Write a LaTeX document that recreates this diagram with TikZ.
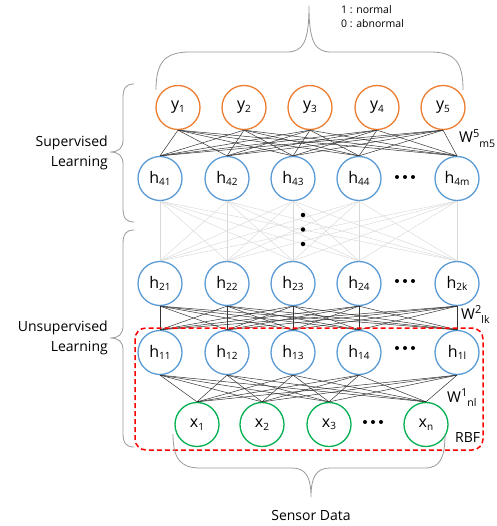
\documentclass[tikz,border=0pt]{standalone}
\usepackage{fontspec}
\setmainfont{Open Sans}
\definecolor{corange}{RGB}{237,125,49}
\definecolor{cblue}{RGB}{91,155,213}
\definecolor{cgreen}{RGB}{0,176,80}
\newcommand{\lsub}[1]{\raisebox{-2.5pt}{\fontsize{10}{10}\selectfont #1}}
\newcommand{\wsup}[2]{W\raisebox{5.5pt}{\fontsize{11}{10}\selectfont #1}\raisebox{-4.5pt}{\fontsize{10.5}{10}\selectfont #2}}
\begin{document}
\begin{tikzpicture}[x=1pt,y=-1pt,
  neuron/.style={circle,draw,line width=1.3pt,fill=white,minimum size=44pt,inner sep=0pt,font=\fontsize{16}{18}\selectfont},
  outn/.style={neuron,draw=corange},
  hidn/.style={neuron,draw=cblue},
  inn/.style={neuron,draw=cgreen},
  edge/.style={draw=black!80,line width=0.5pt},
  faint/.style={draw=black!15,line width=0.45pt},
  brace/.style={draw=black!40,line width=0.8pt},
  lbl/.style={font=\fontsize{14}{20}\selectfont,inner sep=0pt},
  wlbl/.style={font=\fontsize{15}{16}\selectfont,inner sep=0pt,anchor=base west},
  dotc/.style={fill=black,draw=none,circle,inner sep=0pt,minimum size=4.5pt}]
\useasboundingbox (0,0) rectangle (496,526);

% nodes
\node[outn] (Y1) at (178,107.5) {y\lsub{1}};
\node[outn] (Y2) at (244,107.5) {y\lsub{2}};
\node[outn] (Y3) at (310,107.5) {y\lsub{3}};
\node[outn] (Y4) at (377,107.5) {y\lsub{4}};
\node[outn] (Y5) at (443,107.5) {y\lsub{5}};

\node[hidn] (D1) at (160,178.5) {h\lsub{41}};
\node[hidn] (D2) at (227,178.5) {h\lsub{42}};
\node[hidn] (D3) at (293,178.5) {h\lsub{43}};
\node[hidn] (D4) at (359,178.5) {h\lsub{44}};
\node[hidn] (D5) at (457,178.5) {h\lsub{4m}};

\node[hidn] (C1) at (160,283.5) {h\lsub{21}};
\node[hidn] (C2) at (227,283.5) {h\lsub{22}};
\node[hidn] (C3) at (293,283.5) {h\lsub{23}};
\node[hidn] (C4) at (359,283.5) {h\lsub{24}};
\node[hidn] (C5) at (457,283.5) {h\lsub{2k}};

\node[hidn] (B1) at (160,352.5) {h\lsub{11}};
\node[hidn] (B2) at (227,352.5) {h\lsub{12}};
\node[hidn] (B3) at (293,352.5) {h\lsub{13}};
\node[hidn] (B4) at (359,352.5) {h\lsub{14}};
\node[hidn] (B5) at (457,352.5) {h\lsub{1l}};

\node[inn] (X1) at (197,424.5) {x\lsub{1}};
\node[inn] (X2) at (262,424.5) {x\lsub{2}};
\node[inn] (X3) at (329,424.5) {x\lsub{3}};
\node[inn] (X4) at (426,424.5) {x\lsub{n}};

% connectors
\foreach \i in {1,...,5}{
  \foreach \j in {1,...,5}{
    \draw[edge] (Y\i.south) -- (D\j.north);
    \draw[faint] (D\i.south) -- (C\j.north);
    \draw[edge] (C\i.south) -- (B\j.north);
  }
  \foreach \j in {1,...,4}{
    \draw[edge] (B\i.south) -- (X\j.north);
  }
}

% ellipsis dots
\foreach \yy in {215,229.5,244}{\node[dotc] at (303,\yy) {};}
\foreach \xx in {397,405,413}{
  \node[dotc,minimum size=4pt] at (\xx,177) {};
  \node[dotc,minimum size=4pt] at (\xx,281) {};
  \node[dotc,minimum size=4pt] at (\xx,348) {};
  \node[dotc,minimum size=4pt] at (\xx-32,422) {};
}

% weight labels
\node[wlbl] (w5) at (459,143) {\wsup{5}{m5}};
\node[wlbl] (w2) at (461,319) {\wsup{2}{lk}};
\node[wlbl] (w1) at (447,402) {\wsup{1}{nl}};
\node[wlbl,font=\fontsize{14}{15}\selectfont] (rbf) at (455,442) {RBF};

% RBF box
\draw[draw=red,line width=1.5pt,dash pattern=on 5pt off 3pt,rounded corners=11pt] (135,328) rectangle (483,450);

% top brace
\draw[brace] (156,90) .. controls (156,62) and (165,52) .. (190,52) -- (287,52) .. controls (303,52) and (309,42) .. (309,6)
  .. controls (309,42) and (315,52) .. (331,52) -- (430,52) .. controls (455,52) and (463,62) .. (463,90);
\node[lbl,font=\fontsize{10.5}{14}\selectfont,anchor=north west,align=left] (cls) at (341,5) {1 : normal\\0 : abnormal};

% bottom brace
\draw[brace] (173,434) .. controls (173,458) and (180,468) .. (200,468) -- (292,468) .. controls (305,468) and (311,476) .. (311,497)
  .. controls (311,476) and (317,468) .. (330,468) -- (425,468) .. controls (440,468) and (445,458) .. (445,434);
\node[lbl] (sd) at (311,515) {Sensor Data};

% left braces
\draw[brace] (134,84) .. controls (126,84) and (123,88) .. (123,98) -- (123,140) .. controls (123,148) and (119,152) .. (110,152)
  .. controls (119,152) and (123,156) .. (123,164) -- (123,208) .. controls (123,218) and (126,222) .. (134,222);
\draw[brace] (134,230) .. controls (126,230) and (123,234) .. (123,244) -- (123,326) .. controls (123,334) and (119,338) .. (110,338)
  .. controls (119,338) and (123,342) .. (123,350) -- (123,433) .. controls (123,443) and (126,447) .. (134,447);
\node[lbl,anchor=east,align=right] (sup) at (108,153) {Supervised\\Learning};
\node[lbl,anchor=east,align=right] (uns) at (108,338) {Unsupervised\\Learning};
\end{tikzpicture}
\end{document}
